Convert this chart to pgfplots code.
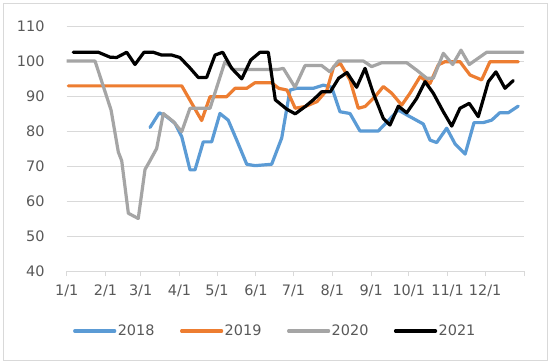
\documentclass[border=0pt]{standalone}
\usepackage{fontspec}
\setmainfont{DejaVu Sans}
\usepackage{pgfplots}
\pgfplotsset{compat=1.18}
\definecolor{cBlue}{HTML}{5B9BD5}
\definecolor{cOrange}{HTML}{ED7D31}
\definecolor{cGray}{HTML}{A5A5A5}
\definecolor{gridc}{HTML}{D9D9D9}
\definecolor{txt}{HTML}{595959}
\begin{document}
\begin{tikzpicture}[x=1bp,y=1bp]
\useasboundingbox (0,0) rectangle (550,362);
\fill[white] (0,0) rectangle (550,362);
\draw[gridc, line width=1bp] (3,2) rectangle (547,358);
\begin{axis}[
 at={(66.7bp,91bp)}, anchor=south west,
 scale only axis, width=457.3bp, height=245bp,
 xmin=0, xmax=365, ymin=40, ymax=110,
 ytick={40,50,...,110},
 xtick={0,31,59,90,120,151,181,212,243,273,304,334,365},
 xticklabels={1/1,2/1,3/1,4/1,5/1,6/1,7/1,8/1,9/1,10/1,11/1,12/1,},
 ymajorgrids, grid style={gridc, line width=1bp},
 axis line style={draw=none},
 xtick pos=left, tick align=outside, major tick length=5bp,
 xtick style={gridc, line width=1bp},
 ytick style={draw=none},
 /pgf/number format/assume math mode=true,
 every tick label/.append style={font=\fontsize{14.5}{16}\selectfont, text=txt, inner sep=0pt},
 yticklabel style={anchor=east, xshift=-17bp},
 xticklabel style={anchor=north, yshift=-9bp},
 no marks,
 every axis plot/.append style={line width=3.2bp, line join=round, line cap=round},
 legend columns=4,
 legend style={at={(axis description cs:0.4555,-0.245)}, anchor=center, draw=none, fill=none,
   font=\fontsize{14.5}{16}\selectfont, text=txt, inner sep=0pt,
   nodes={inner sep=1.5bp},
   /tikz/every even column/.append style={column sep=24bp}},
 legend image code/.code={\draw[#1, line cap=round] (0bp,0bp) -- (40bp,0bp);},
]
\addplot[cBlue] table {
66.5 81
73.9 85.2
79.8 84.1
86.4 82.2
91.8 78.4
98.4 68.9
102.4 68.9
109 76.9
115.7 76.9
122.3 85
128.9 83.1
135.7 77.4
143.7 70.5
150.3 70.1
163.6 70.5
171.6 78
178.2 91.7
183.6 92.2
196.8 92.2
204.8 93.1
211.5 92.5
218.1 85.5
226.1 85
234.1 80
248.7 80
255.4 82.5
264.7 86
271.4 84.6
284.6 82
290 77.4
295.3 76.7
303.3 80.8
310 76.3
318 73.4
325.1 82.4
332.5 82.4
339.2 83.1
345.6 85.2
352.4 85.2
360.4 87.1
};
\addlegendentry{2018}
\addplot[cOrange] table {
1.3 92.9
91.8 92.9
107.7 83
114.4 89.8
127.7 89.8
134.3 92.2
143.7 92.2
150.3 93.8
163.6 93.8
169.2 92.2
175.8 91.7
182.4 86.5
190.4 87
199.8 88.4
207.7 91.7
213.1 98.4
218.4 99.3
226.1 94.6
232.7 86.5
238.1 87
246.1 89.8
252.7 92.7
259.4 90.8
267.4 87.4
274 90.8
282 95.5
290 93.6
296.6 98.9
301.9 99.8
313.9 99.8
321.9 96
331.2 94.6
337.8 99.8
360.4 99.8
};
\addlegendentry{2019}
\addplot[cGray] table {
0 100
22.6 100
29 93
35.4 86
41.2 74
43.9 71.5
49.2 56.5
57.1 55
62.5 69
65.7 71
71.8 75
77.1 85
85.1 82.7
91.8 79.8
98.4 86.5
114.4 86.5
126.3 99.8
133 97.6
168.9 97.6
172.9 97.9
182.2 92.5
190.2 98.7
203.5 98.7
210.1 96.9
216.8 100
236.7 100
243.4 98.4
251.4 99.5
271.4 99.5
279.3 97.4
287.3 95.1
292.6 95.1
300.6 102.2
308.1 99
314.7 103.1
321.3 99
335.2 102.5
364.4 102.5
};
\addlegendentry{2020}
\addplot[black] table {
5.3 102.5
25.2 102.5
34.6 101.1
39.9 101
47.9 102.5
54.5 99
61.7 102.5
69.1 102.5
75.8 101.7
83.8 101.7
90.4 101
98.4 98
105 95.3
111.7 95.3
118.4 101.7
124.5 102.5
131.7 97.9
139.7 94.9
146.9 100.3
154.3 102.5
160.9 102.5
166.5 88.9
175.8 86.2
182.4 84.9
190.4 87
196.8 88.9
203.5 91.2
210.4 91.2
217.1 95.1
223.7 96.7
231.4 92.5
238.1 97.9
244.7 90.8
252.7 83.6
258 81.7
264.7 87.1
271.4 85.2
279.3 89.3
286 94.1
292.6 90.8
300.6 85.5
307.3 81.4
313.9 86.5
321.3 87.9
328.5 84.1
336.5 94.1
342.6 96.9
349.8 92.2
356.4 94.4
};
\addlegendentry{2021}
\end{axis}
\end{tikzpicture}
\end{document}
